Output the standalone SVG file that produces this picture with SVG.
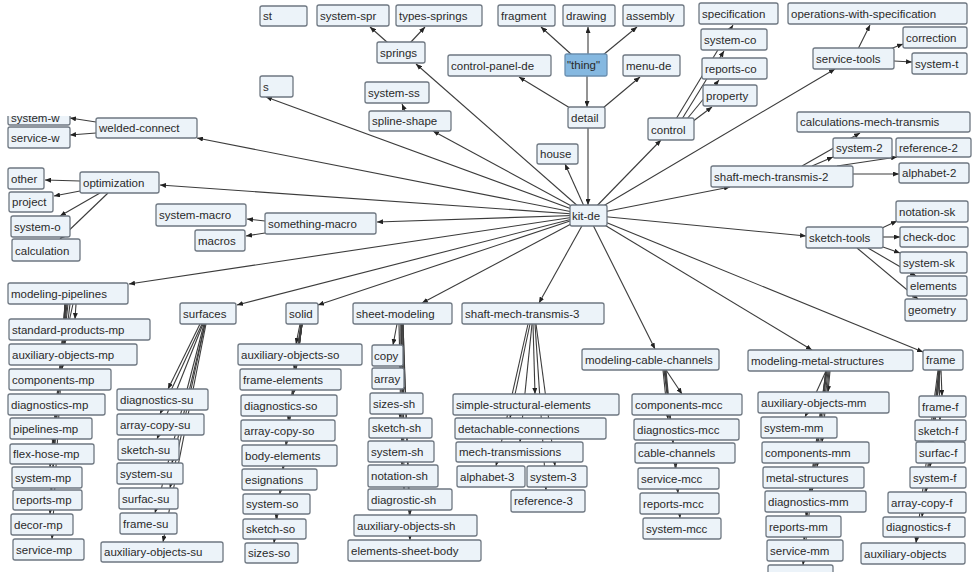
<svg xmlns="http://www.w3.org/2000/svg" width="973" height="572" viewBox="0 0 973 572">
<style>
.n rect{fill:#ecf3f9;stroke:#6e7781;stroke-width:1.3}
.n text{font-family:"Liberation Sans",Arial,sans-serif;font-size:11.5px;fill:#2a2a2a}
.hl rect{fill:#85b8e0;stroke:#6a8fb0}
#edges line{stroke:#3c3c3c;stroke-width:1.1;marker-end:url(#ah)}
</style>
<defs>
<marker id="ah" markerUnits="userSpaceOnUse" markerWidth="6" markerHeight="5" refX="6" refY="2.5" orient="auto"><path d="M0,0 L6,2.5 L0,5 z" fill="#222"/></marker>
<clipPath id="cw"><rect x="0" y="116" width="90" height="20"/></clipPath>
</defs>
<rect width="973" height="572" fill="#fff"/>
<g id="edges">
<line x1="588" y1="215" x2="416" y2="64"/>
<line x1="588" y1="215" x2="433" y2="131"/>
<line x1="588" y1="215" x2="266" y2="97"/>
<line x1="588" y1="215" x2="197" y2="138"/>
<line x1="588" y1="215" x2="160" y2="185"/>
<line x1="588" y1="215" x2="377" y2="222"/>
<line x1="588" y1="215" x2="129" y2="284"/>
<line x1="588" y1="215" x2="237" y2="305"/>
<line x1="588" y1="215" x2="318" y2="305"/>
<line x1="588" y1="215" x2="422" y2="303"/>
<line x1="588" y1="215" x2="539" y2="303"/>
<line x1="588" y1="215" x2="655" y2="349"/>
<line x1="588" y1="215" x2="812" y2="350"/>
<line x1="588" y1="215" x2="923" y2="352"/>
<line x1="588" y1="215" x2="806" y2="236"/>
<line x1="588" y1="215" x2="730" y2="187"/>
<line x1="588" y1="215" x2="835" y2="69"/>
<line x1="588" y1="215" x2="661" y2="140"/>
<line x1="588" y1="215" x2="565" y2="164"/>
<line x1="588" y1="128" x2="588" y2="205"/>
<line x1="388" y1="43" x2="370" y2="27"/>
<line x1="410" y1="43" x2="425" y2="27"/>
<line x1="572" y1="55" x2="541" y2="27"/>
<line x1="588" y1="55" x2="588" y2="27"/>
<line x1="603" y1="55" x2="637" y2="27"/>
<line x1="587" y1="76" x2="587" y2="107"/>
<line x1="570" y1="108" x2="519" y2="77"/>
<line x1="603" y1="108" x2="640" y2="77"/>
<line x1="405" y1="111" x2="402" y2="104"/>
<line x1="676" y1="119" x2="733" y2="25"/>
<line x1="682" y1="119" x2="724" y2="51"/>
<line x1="687" y1="119" x2="719" y2="80"/>
<line x1="692" y1="122" x2="712" y2="107"/>
<line x1="858" y1="49" x2="870" y2="25"/>
<line x1="890" y1="49" x2="903" y2="44"/>
<line x1="894" y1="61" x2="912" y2="62"/>
<line x1="802" y1="166" x2="860" y2="133"/>
<line x1="812" y1="166" x2="833" y2="157"/>
<line x1="837" y1="166" x2="897" y2="157"/>
<line x1="853" y1="174" x2="899" y2="174"/>
<line x1="882" y1="228" x2="897" y2="221"/>
<line x1="883" y1="237" x2="900" y2="237"/>
<line x1="883" y1="247" x2="900" y2="253"/>
<line x1="868" y1="248" x2="916" y2="276"/>
<line x1="857" y1="248" x2="918" y2="299"/>
<line x1="96" y1="122" x2="70" y2="118"/>
<line x1="96" y1="133" x2="70" y2="135"/>
<line x1="80" y1="181" x2="45" y2="180"/>
<line x1="80" y1="191" x2="54" y2="196"/>
<line x1="100" y1="193" x2="60" y2="216"/>
<line x1="108" y1="193" x2="60" y2="239"/>
<line x1="265" y1="221" x2="247" y2="219"/>
<line x1="265" y1="233" x2="246" y2="236"/>
<line x1="76" y1="304" x2="75" y2="319"/>
<line x1="73" y1="304" x2="64" y2="344"/>
<line x1="70" y1="304" x2="62" y2="369"/>
<line x1="68" y1="304" x2="58" y2="394"/>
<line x1="67" y1="304" x2="55" y2="418"/>
<line x1="66" y1="304" x2="53" y2="444"/>
<line x1="66" y1="304" x2="50" y2="467"/>
<line x1="65" y1="304" x2="51" y2="490"/>
<line x1="65" y1="304" x2="50" y2="514"/>
<line x1="65" y1="304" x2="52" y2="539"/>
<line x1="200" y1="324" x2="168" y2="389"/>
<line x1="202" y1="324" x2="160" y2="414"/>
<line x1="203" y1="324" x2="157" y2="439"/>
<line x1="205" y1="324" x2="172" y2="463"/>
<line x1="205" y1="324" x2="170" y2="488"/>
<line x1="204" y1="324" x2="155" y2="513"/>
<line x1="206" y1="324" x2="163" y2="542"/>
<line x1="300" y1="324" x2="296" y2="344"/>
<line x1="301" y1="324" x2="294" y2="369"/>
<line x1="301" y1="324" x2="293" y2="395"/>
<line x1="302" y1="324" x2="288" y2="420"/>
<line x1="302" y1="324" x2="286" y2="445"/>
<line x1="302" y1="324" x2="283" y2="469"/>
<line x1="302" y1="324" x2="280" y2="494"/>
<line x1="302" y1="324" x2="276" y2="519"/>
<line x1="302" y1="324" x2="274" y2="543"/>
<line x1="397" y1="324" x2="393" y2="345"/>
<line x1="399" y1="324" x2="400" y2="368"/>
<line x1="401" y1="324" x2="403" y2="393"/>
<line x1="401" y1="324" x2="400" y2="418"/>
<line x1="402" y1="324" x2="402" y2="441"/>
<line x1="402" y1="324" x2="402" y2="465"/>
<line x1="403" y1="324" x2="404" y2="489"/>
<line x1="403" y1="324" x2="410" y2="515"/>
<line x1="403" y1="324" x2="410" y2="540"/>
<line x1="533" y1="324" x2="535" y2="394"/>
<line x1="530" y1="324" x2="510" y2="418"/>
<line x1="532" y1="324" x2="520" y2="442"/>
<line x1="528" y1="324" x2="496" y2="466"/>
<line x1="536" y1="324" x2="555" y2="466"/>
<line x1="535" y1="324" x2="546" y2="490"/>
<line x1="666" y1="370" x2="682" y2="394"/>
<line x1="663" y1="370" x2="668" y2="419"/>
<line x1="664" y1="370" x2="673" y2="443"/>
<line x1="665" y1="370" x2="676" y2="468"/>
<line x1="665" y1="370" x2="678" y2="493"/>
<line x1="666" y1="370" x2="680" y2="518"/>
<line x1="830" y1="371" x2="828" y2="392"/>
<line x1="826" y1="371" x2="805" y2="417"/>
<line x1="829" y1="371" x2="822" y2="442"/>
<line x1="828" y1="371" x2="817" y2="467"/>
<line x1="827" y1="371" x2="812" y2="491"/>
<line x1="826" y1="371" x2="806" y2="516"/>
<line x1="826" y1="371" x2="804" y2="540"/>
<line x1="826" y1="371" x2="803" y2="565"/>
<line x1="941" y1="370" x2="942" y2="396"/>
<line x1="939" y1="370" x2="940" y2="420"/>
<line x1="940" y1="370" x2="933" y2="442"/>
<line x1="940" y1="370" x2="930" y2="467"/>
<line x1="939" y1="370" x2="926" y2="492"/>
<line x1="939" y1="370" x2="922" y2="517"/>
<line x1="938" y1="370" x2="916" y2="543"/>
</g>
<g id="n-st" class="n"><rect x="260" y="6" width="47" height="20" rx="2"/><text x="263" y="20">st</text></g>
<g id="n-system-spr" class="n"><rect x="317" y="5" width="72" height="21" rx="2"/><text x="320" y="20">system-spr</text></g>
<g id="n-types-springs" class="n"><rect x="396" y="5" width="86" height="21" rx="2"/><text x="399" y="20">types-springs</text></g>
<g id="n-springs" class="n"><rect x="377" y="42" width="48" height="21" rx="2"/><text x="380" y="57">springs</text></g>
<g id="n-fragment" class="n"><rect x="498" y="5" width="57" height="21" rx="2"/><text x="501" y="20">fragment</text></g>
<g id="n-drawing" class="n"><rect x="563" y="5" width="52" height="21" rx="2"/><text x="566" y="20">drawing</text></g>
<g id="n-assembly" class="n"><rect x="623" y="5" width="61" height="21" rx="2"/><text x="626" y="20">assembly</text></g>
<g id="n-thing" class="n hl"><rect x="565" y="54" width="42" height="22" rx="2"/><text x="567" y="69">"thing"</text></g>
<g id="n-control-panel-de" class="n"><rect x="448" y="55" width="103" height="21" rx="2"/><text x="451" y="70">control-panel-de</text></g>
<g id="n-menu-de" class="n"><rect x="623" y="55" width="57" height="21" rx="2"/><text x="626" y="70">menu-de</text></g>
<g id="n-detail" class="n"><rect x="568" y="107" width="37" height="21" rx="2"/><text x="571" y="122">detail</text></g>
<g id="n-system-ss" class="n"><rect x="365" y="82" width="64" height="21" rx="2"/><text x="368" y="97">system-ss</text></g>
<g id="n-spline-shape" class="n"><rect x="369" y="111" width="82" height="20" rx="2"/><text x="372" y="125">spline-shape</text></g>
<g id="n-house" class="n"><rect x="537" y="144" width="41" height="20" rx="2"/><text x="540" y="158">house</text></g>
<g id="n-kit-de" class="n"><rect x="570" y="205" width="37" height="21" rx="2"/><text x="572" y="220">kit-de</text></g>
<g id="n-specification" class="n"><rect x="699" y="3" width="79" height="21" rx="2"/><text x="702" y="18">specification</text></g>
<g id="n-operations-with-specification" class="n"><rect x="788" y="3" width="179" height="21" rx="2"/><text x="791" y="18">operations-with-specification</text></g>
<g id="n-system-co" class="n"><rect x="701" y="29" width="66" height="21" rx="2"/><text x="704" y="44">system-co</text></g>
<g id="n-reports-co" class="n"><rect x="702" y="58" width="65" height="21" rx="2"/><text x="705" y="73">reports-co</text></g>
<g id="n-property" class="n"><rect x="703" y="85" width="54" height="21" rx="2"/><text x="706" y="100">property</text></g>
<g id="n-control" class="n"><rect x="648" y="118" width="46" height="22" rx="2"/><text x="651" y="134">control</text></g>
<g id="n-service-tools" class="n"><rect x="813" y="48" width="81" height="21" rx="2"/><text x="816" y="63">service-tools</text></g>
<g id="n-correction" class="n"><rect x="903" y="27" width="64" height="21" rx="2"/><text x="906" y="42">correction</text></g>
<g id="n-system-t" class="n"><rect x="912" y="53" width="55" height="21" rx="2"/><text x="915" y="68">system-t</text></g>
<g id="n-calculations-mech-transmis" class="n"><rect x="797" y="112" width="173" height="20" rx="2"/><text x="800" y="126">calculations-mech-transmis</text></g>
<g id="n-system-2" class="n"><rect x="833" y="138" width="59" height="20" rx="2"/><text x="836" y="152">system-2</text></g>
<g id="n-reference-2" class="n"><rect x="896" y="138" width="75" height="19" rx="2"/><text x="899" y="152">reference-2</text></g>
<g id="n-shaft-mech-transmis-2" class="n"><rect x="711" y="166" width="142" height="21" rx="2"/><text x="714" y="181">shaft-mech-transmis-2</text></g>
<g id="n-alphabet-2" class="n"><rect x="899" y="163" width="70" height="20" rx="2"/><text x="902" y="177">alphabet-2</text></g>
<g id="n-notation-sk" class="n"><rect x="896" y="201" width="72" height="21" rx="2"/><text x="899" y="216">notation-sk</text></g>
<g id="n-check-doc" class="n"><rect x="900" y="227" width="68" height="20" rx="2"/><text x="903" y="241">check-doc</text></g>
<g id="n-sketch-tools" class="n"><rect x="806" y="227" width="77" height="21" rx="2"/><text x="809" y="242">sketch-tools</text></g>
<g id="n-system-sk" class="n"><rect x="900" y="252" width="67" height="21" rx="2"/><text x="903" y="267">system-sk</text></g>
<g id="n-elements" class="n"><rect x="907" y="276" width="60" height="20" rx="2"/><text x="910" y="290">elements</text></g>
<g id="n-geometry" class="n"><rect x="905" y="299" width="62" height="22" rx="2"/><text x="908" y="314">geometry</text></g>
<g id="n-s" class="n"><rect x="260" y="76" width="33" height="21" rx="2"/><text x="263" y="91">s</text></g>
<g id="n-system-w" class="n" clip-path="url(#cw)"><rect x="8" y="104" width="62" height="21" rx="2"/><text x="11" y="122">system-w</text></g>
<g id="n-service-w" class="n"><rect x="8" y="127" width="62" height="21" rx="2"/><text x="11" y="142">service-w</text></g>
<g id="n-welded-connect" class="n"><rect x="96" y="118" width="101" height="20" rx="2"/><text x="99" y="132">welded-connect</text></g>
<g id="n-other" class="n"><rect x="8" y="168" width="36" height="21" rx="2"/><text x="11" y="183">other</text></g>
<g id="n-optimization" class="n"><rect x="80" y="172" width="79" height="21" rx="2"/><text x="83" y="187">optimization</text></g>
<g id="n-project" class="n"><rect x="9" y="192" width="44" height="20" rx="2"/><text x="12" y="206">project</text></g>
<g id="n-system-o" class="n"><rect x="11" y="216" width="59" height="21" rx="2"/><text x="14" y="231">system-o</text></g>
<g id="n-calculation" class="n"><rect x="12" y="239" width="68" height="22" rx="2"/><text x="15" y="255">calculation</text></g>
<g id="n-system-macro" class="n"><rect x="156" y="204" width="90" height="22" rx="2"/><text x="159" y="219">system-macro</text></g>
<g id="n-macros" class="n"><rect x="195" y="230" width="50" height="21" rx="2"/><text x="198" y="245">macros</text></g>
<g id="n-something-macro" class="n"><rect x="265" y="213" width="111" height="21" rx="2"/><text x="268" y="228">something-macro</text></g>
<g id="n-modeling-pipelines" class="n"><rect x="8" y="283" width="120" height="21" rx="2"/><text x="11" y="298">modeling-pipelines</text></g>
<g id="n-surfaces" class="n"><rect x="180" y="303" width="56" height="21" rx="2"/><text x="183" y="318">surfaces</text></g>
<g id="n-solid" class="n"><rect x="286" y="303" width="32" height="21" rx="2"/><text x="289" y="318">solid</text></g>
<g id="n-sheet-modeling" class="n"><rect x="353" y="303" width="99" height="21" rx="2"/><text x="356" y="318">sheet-modeling</text></g>
<g id="n-shaft-mech-transmis-3" class="n"><rect x="462" y="303" width="142" height="21" rx="2"/><text x="465" y="318">shaft-mech-transmis-3</text></g>
<g id="n-modeling-cable-channels" class="n"><rect x="582" y="349" width="137" height="21" rx="2"/><text x="585" y="364">modeling-cable-channels</text></g>
<g id="n-modeling-metal-structures" class="n"><rect x="748" y="350" width="165" height="21" rx="2"/><text x="751" y="365">modeling-metal-structures</text></g>
<g id="n-frame" class="n"><rect x="923" y="350" width="40" height="20" rx="2"/><text x="926" y="364">frame</text></g>
<g id="n-standard-products-mp" class="n"><rect x="9" y="319" width="141" height="21" rx="2"/><text x="12" y="334">standard-products-mp</text></g>
<g id="n-auxiliary-objects-mp" class="n"><rect x="9" y="344" width="128" height="21" rx="2"/><text x="12" y="359">auxiliary-objects-mp</text></g>
<g id="n-components-mp" class="n"><rect x="9" y="369" width="102" height="21" rx="2"/><text x="12" y="384">components-mp</text></g>
<g id="n-diagnostics-mp" class="n"><rect x="8" y="394" width="97" height="21" rx="2"/><text x="11" y="409">diagnostics-mp</text></g>
<g id="n-pipelines-mp" class="n"><rect x="10" y="418" width="82" height="21" rx="2"/><text x="13" y="433">pipelines-mp</text></g>
<g id="n-flex-hose-mp" class="n"><rect x="10" y="444" width="84" height="20" rx="2"/><text x="13" y="458">flex-hose-mp</text></g>
<g id="n-system-mp" class="n"><rect x="12" y="467" width="70" height="21" rx="2"/><text x="15" y="482">system-mp</text></g>
<g id="n-reports-mp" class="n"><rect x="13" y="490" width="69" height="20" rx="2"/><text x="16" y="504">reports-mp</text></g>
<g id="n-decor-mp" class="n"><rect x="11" y="514" width="62" height="21" rx="2"/><text x="14" y="529">decor-mp</text></g>
<g id="n-service-mp" class="n"><rect x="13" y="539" width="71" height="21" rx="2"/><text x="16" y="554">service-mp</text></g>
<g id="n-diagnostics-su" class="n"><rect x="117" y="389" width="91" height="21" rx="2"/><text x="120" y="404">diagnostics-su</text></g>
<g id="n-array-copy-su" class="n"><rect x="117" y="414" width="87" height="21" rx="2"/><text x="120" y="429">array-copy-su</text></g>
<g id="n-sketch-su" class="n"><rect x="118" y="439" width="61" height="21" rx="2"/><text x="121" y="454">sketch-su</text></g>
<g id="n-system-su" class="n"><rect x="117" y="463" width="66" height="21" rx="2"/><text x="120" y="478">system-su</text></g>
<g id="n-surfac-su" class="n"><rect x="119" y="488" width="59" height="21" rx="2"/><text x="122" y="503">surfac-su</text></g>
<g id="n-frame-su" class="n"><rect x="120" y="513" width="57" height="21" rx="2"/><text x="123" y="528">frame-su</text></g>
<g id="n-auxiliary-objects-su" class="n"><rect x="101" y="542" width="122" height="20" rx="2"/><text x="104" y="556">auxiliary-objects-su</text></g>
<g id="n-auxiliary-objects-so" class="n"><rect x="238" y="344" width="124" height="21" rx="2"/><text x="241" y="359">auxiliary-objects-so</text></g>
<g id="n-frame-elements" class="n"><rect x="240" y="369" width="101" height="21" rx="2"/><text x="243" y="384">frame-elements</text></g>
<g id="n-diagnostics-so" class="n"><rect x="241" y="395" width="96" height="21" rx="2"/><text x="244" y="410">diagnostics-so</text></g>
<g id="n-array-copy-so" class="n"><rect x="241" y="420" width="94" height="21" rx="2"/><text x="244" y="435">array-copy-so</text></g>
<g id="n-body-elements" class="n"><rect x="242" y="445" width="95" height="21" rx="2"/><text x="245" y="460">body-elements</text></g>
<g id="n-esignations" class="n"><rect x="242" y="469" width="75" height="21" rx="2"/><text x="245" y="484">esignations</text></g>
<g id="n-system-so" class="n"><rect x="243" y="494" width="67" height="20" rx="2"/><text x="246" y="508">system-so</text></g>
<g id="n-sketch-so" class="n"><rect x="243" y="519" width="63" height="20" rx="2"/><text x="246" y="533">sketch-so</text></g>
<g id="n-sizes-so" class="n"><rect x="245" y="543" width="53" height="20" rx="2"/><text x="248" y="557">sizes-so</text></g>
<g id="n-copy" class="n"><rect x="372" y="345" width="31" height="21" rx="2"/><text x="374" y="360">copy</text></g>
<g id="n-array" class="n"><rect x="372" y="368" width="32" height="21" rx="2"/><text x="374" y="383">array</text></g>
<g id="n-sizes-sh" class="n"><rect x="370" y="393" width="53" height="21" rx="2"/><text x="373" y="408">sizes-sh</text></g>
<g id="n-sketch-sh" class="n"><rect x="369" y="418" width="63" height="20" rx="2"/><text x="372" y="432">sketch-sh</text></g>
<g id="n-system-sh" class="n"><rect x="368" y="441" width="66" height="21" rx="2"/><text x="371" y="456">system-sh</text></g>
<g id="n-notation-sh" class="n"><rect x="368" y="465" width="70" height="22" rx="2"/><text x="371" y="480">notation-sh</text></g>
<g id="n-diagrostic-sh" class="n"><rect x="368" y="489" width="84" height="21" rx="2"/><text x="371" y="504">diagrostic-sh</text></g>
<g id="n-auxiliary-objects-sh" class="n"><rect x="354" y="515" width="123" height="21" rx="2"/><text x="357" y="530">auxiliary-objects-sh</text></g>
<g id="n-elements-sheet-body" class="n"><rect x="348" y="540" width="133" height="21" rx="2"/><text x="351" y="555">elements-sheet-body</text></g>
<g id="n-simple-structural-elements" class="n"><rect x="453" y="394" width="166" height="21" rx="2"/><text x="456" y="409">simple-structural-elements</text></g>
<g id="n-detachable-connections" class="n"><rect x="455" y="418" width="151" height="21" rx="2"/><text x="458" y="433">detachable-connections</text></g>
<g id="n-mech-transmissions" class="n"><rect x="456" y="442" width="127" height="20" rx="2"/><text x="459" y="456">mech-transmissions</text></g>
<g id="n-alphabet-3" class="n"><rect x="457" y="466" width="68" height="21" rx="2"/><text x="460" y="481">alphabet-3</text></g>
<g id="n-system-3" class="n"><rect x="527" y="466" width="60" height="21" rx="2"/><text x="530" y="481">system-3</text></g>
<g id="n-reference-3" class="n"><rect x="511" y="490" width="74" height="22" rx="2"/><text x="514" y="505">reference-3</text></g>
<g id="n-components-mcc" class="n"><rect x="632" y="394" width="110" height="21" rx="2"/><text x="635" y="409">components-mcc</text></g>
<g id="n-diagnostics-mcc" class="n"><rect x="634" y="419" width="105" height="21" rx="2"/><text x="637" y="434">diagnostics-mcc</text></g>
<g id="n-cable-channels" class="n"><rect x="635" y="443" width="100" height="20" rx="2"/><text x="638" y="457">cable-channels</text></g>
<g id="n-service-mcc" class="n"><rect x="638" y="468" width="81" height="21" rx="2"/><text x="641" y="483">service-mcc</text></g>
<g id="n-reports-mcc" class="n"><rect x="640" y="493" width="79" height="21" rx="2"/><text x="643" y="508">reports-mcc</text></g>
<g id="n-system-mcc" class="n"><rect x="643" y="518" width="78" height="21" rx="2"/><text x="646" y="533">system-mcc</text></g>
<g id="n-auxiliary-objects-mm" class="n"><rect x="758" y="392" width="131" height="21" rx="2"/><text x="761" y="407">auxiliary-objects-mm</text></g>
<g id="n-system-mm" class="n"><rect x="761" y="417" width="76" height="21" rx="2"/><text x="764" y="432">system-mm</text></g>
<g id="n-components-mm" class="n"><rect x="762" y="442" width="107" height="21" rx="2"/><text x="765" y="457">components-mm</text></g>
<g id="n-metal-structures" class="n"><rect x="763" y="467" width="101" height="21" rx="2"/><text x="766" y="482">metal-structures</text></g>
<g id="n-diagnostics-mm" class="n"><rect x="765" y="491" width="101" height="21" rx="2"/><text x="768" y="506">diagnostics-mm</text></g>
<g id="n-reports-mm" class="n"><rect x="766" y="516" width="75" height="21" rx="2"/><text x="769" y="531">reports-mm</text></g>
<g id="n-service-mm" class="n"><rect x="767" y="540" width="76" height="21" rx="2"/><text x="770" y="555">service-mm</text></g>
<g id="n-mm-cut" class="n"><rect x="768" y="565" width="65" height="20" rx="2"/></g>
<g id="n-frame-f" class="n"><rect x="919" y="396" width="47" height="21" rx="2"/><text x="922" y="411">frame-f</text></g>
<g id="n-sketch-f" class="n"><rect x="915" y="420" width="51" height="21" rx="2"/><text x="918" y="435">sketch-f</text></g>
<g id="n-surfac-f" class="n"><rect x="916" y="442" width="49" height="21" rx="2"/><text x="919" y="457">surfac-f</text></g>
<g id="n-system-f" class="n"><rect x="910" y="467" width="56" height="21" rx="2"/><text x="913" y="482">system-f</text></g>
<g id="n-array-copy-f" class="n"><rect x="888" y="492" width="78" height="21" rx="2"/><text x="891" y="507">array-copy-f</text></g>
<g id="n-diagnostics-f" class="n"><rect x="883" y="517" width="82" height="20" rx="2"/><text x="886" y="531">diagnostics-f</text></g>
<g id="n-auxiliary-objects" class="n"><rect x="861" y="543" width="104" height="21" rx="2"/><text x="864" y="558">auxiliary-objects</text></g>
</svg>
